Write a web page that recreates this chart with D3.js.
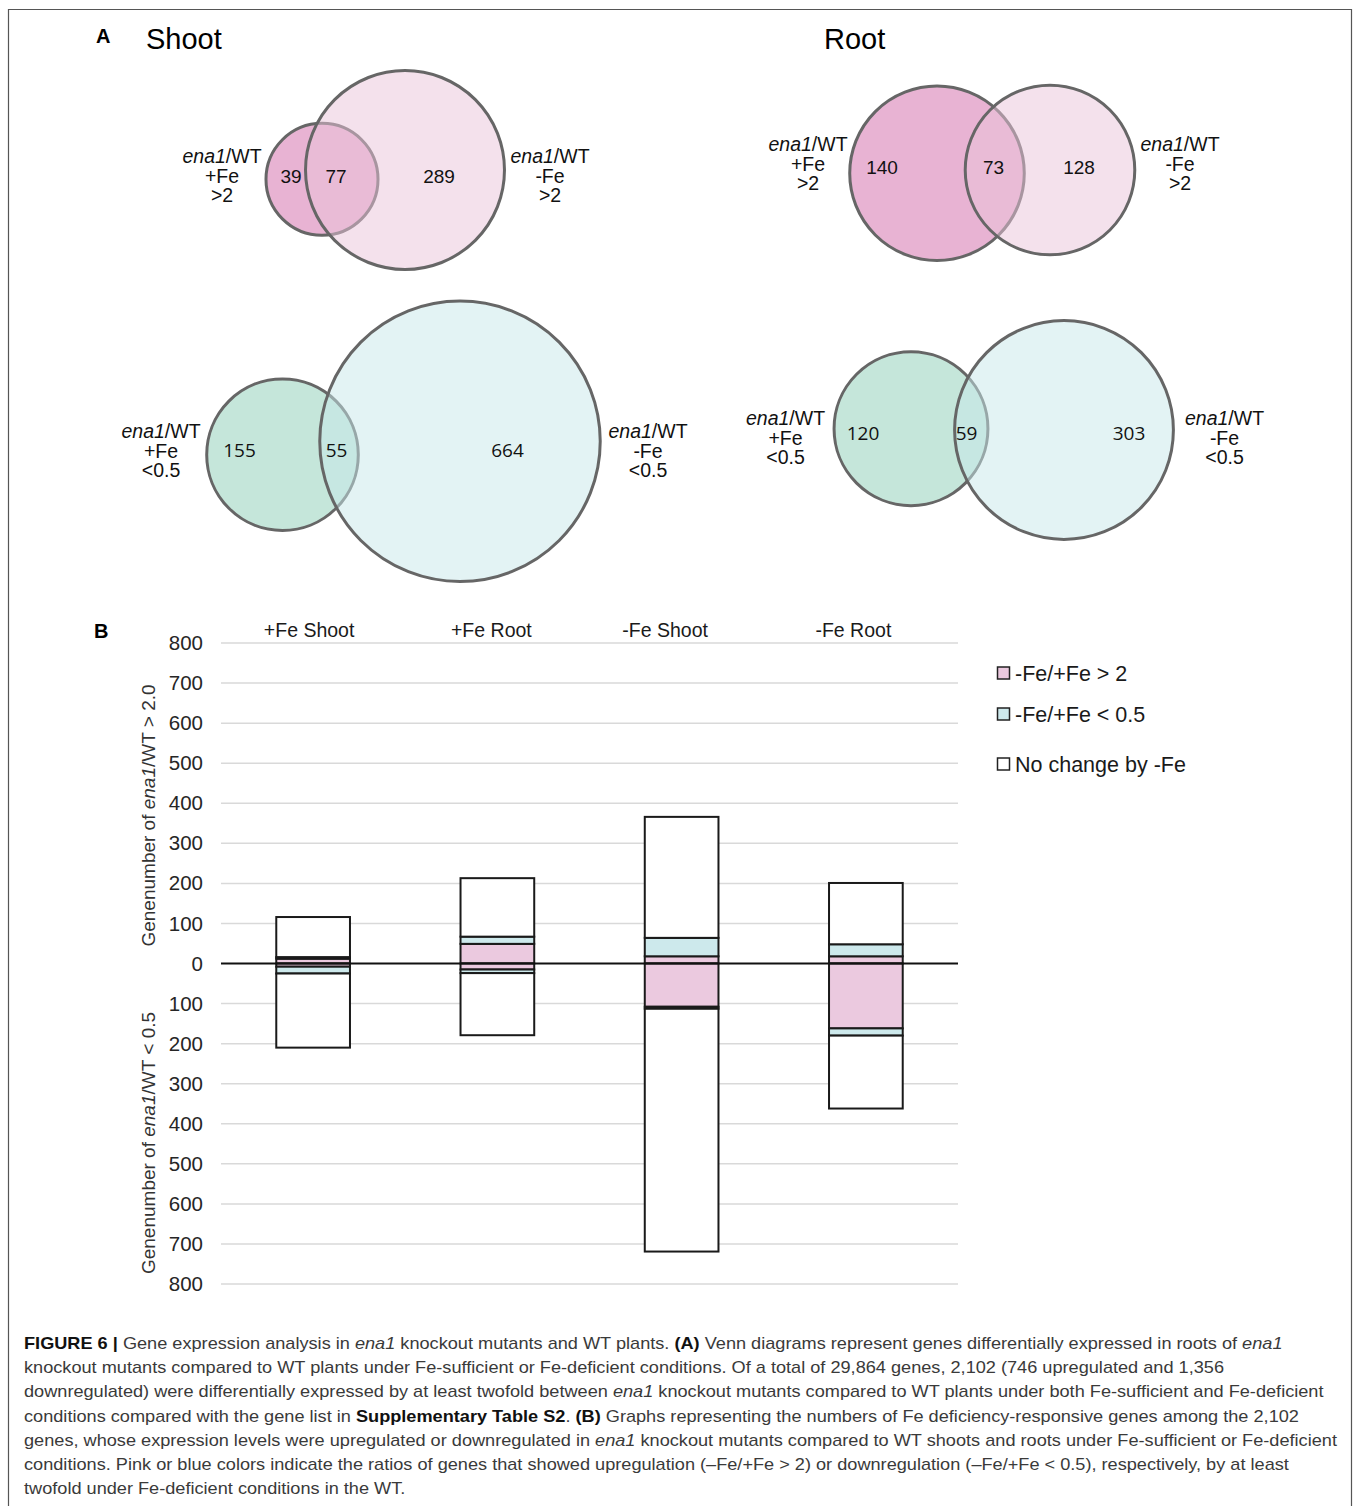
<!DOCTYPE html>
<html><head><meta charset="utf-8">
<script src="https://cdn.jsdelivr.net/npm/d3@7"></script>
<style>body{margin:0;background:#fff} svg{display:block}</style>
</head><body>
<svg id="fig" width="1358" height="1506"></svg>
<script>
// ---------------- DATA ----------------
// Venn counts: [only +Fe, both, only -Fe]
const vennShootUp   = [39, 77, 289];
const vennRootUp    = [140, 73, 128];
const vennShootDown = [155, 55, 664];
const vennRootDown  = [120, 59, 303];
const vennSideLeft  = ["+Fe", "+Fe", "+Fe", "+Fe"];
const vennSideRight = ["-Fe", "-Fe", "-Fe", "-Fe"];
const vennThresholds = [">2", ">2", "<0.5", "<0.5"];
const panelTitles = ["Shoot", "Root"];

// Stacked bars (gene numbers)
const barCategories = ["+Fe Shoot", "+Fe Root", "-Fe Shoot", "-Fe Root"];
const upPink   = [12, 49, 18, 18];
const upBlue   = [4, 18, 46, 30];
const upNone   = [100, 146, 302, 153];
const downPink = [8, 15, 108, 162];
const downBlue = [17, 9, 5, 18];
const downNone = [185, 155, 606, 182];
const yTickValues = [800, 700, 600, 500, 400, 300, 200, 100, 0, -100, -200, -300, -400, -500, -600, -700, -800];
const legendLabels = ["-Fe/+Fe > 2", "-Fe/+Fe < 0.5", "No change by -Fe"];

// ---------------- DRAW ----------------
const svg = d3.select("#fig");
const SANS = "'Liberation Sans', Arial, Helvetica, sans-serif";
const PINK = "#ebc9df", BLUE = "#cde9ec";

// frame
svg.append("path").attr("d", "M8.5,1506 V9.5 H1351.5 V1506")
  .attr("fill", "none").attr("stroke", "#555").attr("stroke-width", 1.2);

// panel letters & titles
svg.append("text").attr("x", 96).attr("y", 43).text("A")
  .attr("font-family", SANS).attr("font-weight", "bold").attr("font-size", 20);
svg.append("text").attr("x", 146).attr("y", 49).text(panelTitles[0])
  .attr("font-family", SANS).attr("font-size", 29);
svg.append("text").attr("x", 824).attr("y", 49).text(panelTitles[1])
  .attr("font-family", SANS).attr("font-size", 29);

// Venn layouts (positions only)
const vennLayouts = [
  {data: vennShootUp, k: 5.2, c1: [322, 179.3], c2: [405, 170], up: true,
   labL: [222, 163], labR: [550, 163], nums: [[291, 182.5], [336, 182.5], [439, 182.5]], numFont: SANS},
  {data: vennRootUp, k: 5.98, c1: [937, 173.3], c2: [1050, 170], up: true,
   labL: [808, 151], labR: [1180, 151], nums: [[882, 174], [993.5, 174], [1079, 174]], numFont: SANS},
  {data: vennShootDown, k: 5.23, c1: [282.5, 454.7], c2: [460, 441.3], up: false,
   labL: [161, 438], labR: [648, 438], nums: [[239.5, 457], [336.5, 457], [507.5, 457]], numFont: "'Open Sans', 'Noto Sans', sans-serif"},
  {data: vennRootDown, k: 5.75, c1: [911, 428.7], c2: [1064, 430], up: false,
   labL: [785.5, 425], labR: [1224.5, 425], nums: [[863, 440], [966.5, 440], [1129, 440]], numFont: "'Open Sans', 'Noto Sans', sans-serif"}
];

vennLayouts.forEach((L, i) => {
  const tot1 = L.data[0] + L.data[1];
  const tot2 = L.data[1] + L.data[2];
  const rScale = d3.scaleSqrt().domain([0, 1000]).range([0, L.k * Math.sqrt(1000)]);
  const g = svg.append("g");
  const col1 = L.up ? "#e8b3d3" : "#c5e6da";
  const col2 = L.up ? "#e9c3d9" : "#c7e7e9";
  g.append("circle").attr("cx", L.c1[0]).attr("cy", L.c1[1]).attr("r", rScale(tot1))
    .attr("fill", col1).attr("stroke", "#666").attr("stroke-width", 3);
  g.append("circle").attr("cx", L.c2[0]).attr("cy", L.c2[1]).attr("r", rScale(tot2))
    .attr("fill", col2).attr("fill-opacity", 0.5).attr("stroke", "#666").attr("stroke-width", 3);

  // numbers
  L.data.forEach((v, j) => {
    g.append("text").attr("x", L.nums[j][0]).attr("y", L.nums[j][1])
      .attr("text-anchor", "middle").attr("font-family", L.numFont)
      .attr("font-size", 19).attr("fill", "#111").text(v);
  });
  // side labels
  [[L.labL, vennSideLeft[i]], [L.labR, vennSideRight[i]]].forEach(([pos, side]) => {
    const t = g.append("text").attr("x", pos[0]).attr("y", pos[1])
      .attr("text-anchor", "middle").attr("font-family", SANS).attr("font-size", 19.5).attr("fill", "#111");
    t.append("tspan").attr("font-style", "italic").text("ena1");
    t.append("tspan").text("/WT");
    g.append("text").attr("x", pos[0]).attr("y", pos[1] + 19.5).attr("text-anchor", "middle")
      .attr("font-family", SANS).attr("font-size", 19.5).attr("fill", "#111").text(side);
    g.append("text").attr("x", pos[0]).attr("y", pos[1] + 39).attr("text-anchor", "middle")
      .attr("font-family", SANS).attr("font-size", 19.5).attr("fill", "#111").text(vennThresholds[i]);
  });
});

// ---------------- PANEL B ----------------
svg.append("text").attr("x", 94).attr("y", 638).text("B")
  .attr("font-family", SANS).attr("font-weight", "bold").attr("font-size", 20);

const x = d3.scaleBand().domain(barCategories).range([221, 958]).padding(0);
const y = d3.scaleLinear().domain([800, -800]).range([643, 1284]);

// gridlines
svg.append("g").selectAll("line").data(yTickValues.filter(v => v !== 0)).join("line")
  .attr("x1", 221).attr("x2", 958)
  .attr("y1", d => y(d)).attr("y2", d => y(d))
  .attr("stroke", "#d9d9d9").attr("stroke-width", 1.5);

// y axis tick labels via d3 axis
const yAxis = d3.axisLeft(y).tickValues(yTickValues).tickFormat(d => Math.abs(d)).tickSize(0).tickPadding(0);
const ag = svg.append("g").attr("transform", "translate(203,0)").call(yAxis);
ag.select(".domain").remove();
ag.selectAll("text").attr("font-family", SANS).attr("font-size", 20.5).attr("fill", "#262626");

// stacked segments
const segs = [];
barCategories.forEach((c, i) => {
  const upVals = [[upPink[i], PINK], [upBlue[i], BLUE], [upNone[i], "#fff"]];
  const dnVals = [[downPink[i], PINK], [downBlue[i], BLUE], [downNone[i], "#fff"]];
  let acc = 0;
  upVals.forEach(([v, f]) => { segs.push({c, v0: acc, v1: acc + v, f}); acc += v; });
  acc = 0;
  dnVals.forEach(([v, f]) => { segs.push({c, v0: -acc, v1: -(acc + v), f}); acc += v; });
});
const bw = x.bandwidth() * 0.4;
svg.append("g").selectAll("rect").data(segs).join("rect")
  .attr("x", d => x(d.c) + (x.bandwidth() - bw) / 2)
  .attr("width", bw)
  .attr("y", d => y(Math.max(d.v0, d.v1)))
  .attr("height", d => Math.abs(y(d.v0) - y(d.v1)))
  .attr("fill", d => d.f).attr("stroke", "#1a1a1a").attr("stroke-width", 2);

// zero line
svg.append("line").attr("x1", 221).attr("x2", 958).attr("y1", y(0)).attr("y2", y(0))
  .attr("stroke", "#111").attr("stroke-width", 2.2);

// category labels on top
const catOffsets = [-4, -6, -16.5, -12.5];
svg.append("g").selectAll("text").data(barCategories).join("text")
  .attr("x", (d, i) => x(d) + x.bandwidth() / 2 + catOffsets[i]).attr("y", 637)
  .attr("text-anchor", "middle").attr("font-family", SANS).attr("font-size", 19.5)
  .attr("fill", "#1a1a1a").text(d => d);

// y axis titles
function yTitle(cy, sym, val) {
  const t = svg.append("text").attr("transform", `translate(155,${cy}) rotate(-90)`)
    .attr("text-anchor", "middle").attr("font-family", SANS).attr("font-size", 19).attr("fill", "#333");
  t.append("tspan").text("Genenumber of ");
  t.append("tspan").attr("font-style", "italic").text("ena1");
  t.append("tspan").text(`/WT ${sym} ${val}`);
}
yTitle(815.5, ">", "2.0");
yTitle(1143, "<", "0.5");

// legend
const legFills = [PINK, BLUE, "#fff"];
const legY = [673, 714, 764];
const lg = svg.append("g");
legendLabels.forEach((lab, i) => {
  lg.append("rect").attr("x", 997.5).attr("y", legY[i] - 6).attr("width", 12).attr("height", 12)
    .attr("fill", legFills[i]).attr("stroke", "#222").attr("stroke-width", 1.5);
  lg.append("text").attr("x", 1015).attr("y", legY[i] + 7.5).attr("font-family", SANS)
    .attr("font-size", 21.5).attr("fill", "#1a1a1a").text(lab);
});

// ---------------- CAPTION ----------------
const captionLines = [
  [["FIGURE 6 | ", "b"], ["Gene expression analysis in ", ""], ["ena1", "i"], [" knockout mutants and WT plants. ", ""], ["(A)", "b"], [" Venn diagrams represent genes differentially expressed in roots of ", ""], ["ena1", "i"]],
  [["knockout mutants compared to WT plants under Fe-sufficient or Fe-deficient conditions. Of a total of 29,864 genes, 2,102 (746 upregulated and 1,356", ""]],
  [["downregulated) were differentially expressed by at least twofold between ", ""], ["ena1", "i"], [" knockout mutants compared to WT plants under both Fe-sufficient and Fe-deficient", ""]],
  [["conditions compared with the gene list in ", ""], ["Supplementary Table S2", "b"], [". ", ""], ["(B)", "b"], [" Graphs representing the numbers of Fe deficiency-responsive genes among the 2,102", ""]],
  [["genes, whose expression levels were upregulated or downregulated in ", ""], ["ena1", "i"], [" knockout mutants compared to WT shoots and roots under Fe-sufficient or Fe-deficient", ""]],
  [["conditions. Pink or blue colors indicate the ratios of genes that showed upregulation (\u2013Fe/+Fe > 2) or downregulation (\u2013Fe/+Fe < 0.5), respectively, by at least", ""]],
  [["twofold under Fe-deficient conditions in the WT.", ""]]
];
const capG = svg.append("g");
const capTexts = captionLines.map((segsL, i) => {
  const t = capG.append("text").attr("x", 0).attr("y", 0)
    .attr("font-family", SANS).attr("font-size", 17).attr("fill", "#3a3a3a");
  segsL.forEach(([s, st]) => {
    const ts = t.append("tspan").text(s);
    if (st === "b") ts.attr("font-weight", "bold").attr("fill", "#111");
    if (st === "i") ts.attr("font-style", "italic");
  });
  return t;
});
const refLen = capTexts[4].node().getComputedTextLength();
const sx = (1338 - 24) / refLen;
capTexts.forEach((t, i) => {
  t.attr("transform", `translate(24,${1349 + i * 24.2}) scale(${sx},1)`);
});
</script>
</body></html>
